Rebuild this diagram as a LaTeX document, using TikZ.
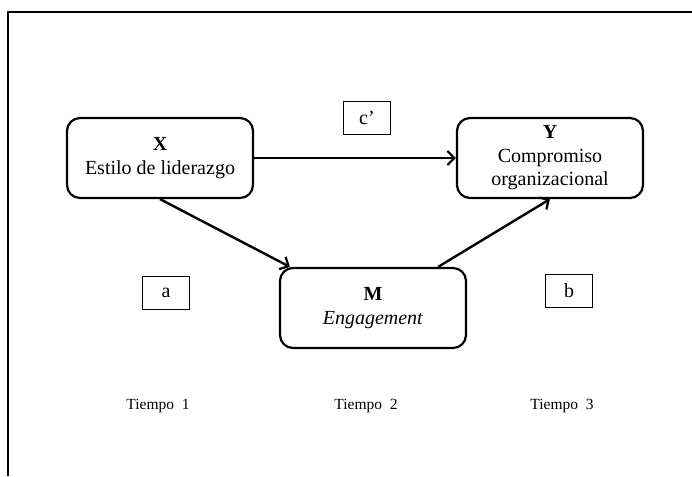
\documentclass[tikz,border=0pt]{standalone}
\usepackage{fontspec}
\setmainfont{Liberation Serif}
\usetikzlibrary{arrows.meta}
\begin{document}
\begin{tikzpicture}[x=1pt,y=-1pt,
 varbox/.style={draw,line width=2.2pt,rounded corners=13pt,minimum width=186pt,minimum height=80pt,align=center,font=\fontsize{20}{23.5}\selectfont},
 pathbox/.style={draw,line width=1.8pt,minimum width=47pt,minimum height=33pt,inner sep=0pt,font=\fontsize{20}{22}\selectfont},
 timelbl/.style={font=\fontsize{15.5}{18}\selectfont},
 path/.style={line width=2.4pt,-{Straight Barb[length=7pt,width=14pt,line width=2.2pt]}}]
 \useasboundingbox (0,0) rectangle (692,476);
 \draw[line width=2.2pt](8,476)--(8,12)--(692,12);
 \node[varbox] (x) at (160,158) {\textbf{X}\\Estilo de liderazgo};
 \node[varbox] (y) at (550,158) {\textbf{Y}\\Compromiso\\organizacional};
 \node[varbox] (m) at (373,308) {\textbf{M}\\\textit{Engagement}};
 \node[pathbox] (c) at (367,118) {c’};
 \node[pathbox] (a) at (166,293) {a};
 \node[pathbox] (b) at (569,291) {b};
 \node[timelbl] (t1) at (158,406) {Tiempo~~1};
 \node[timelbl] (t2) at (366,406) {Tiempo~~2};
 \node[timelbl] (t3) at (562,406) {Tiempo~~3};
 \draw[path](x.east)--(y.west);
 \draw[path](x.south)--([xshift=11pt]m.north west);
 \draw[path]([xshift=-29pt]m.north east)--(y.south);
\end{tikzpicture}
\end{document}
